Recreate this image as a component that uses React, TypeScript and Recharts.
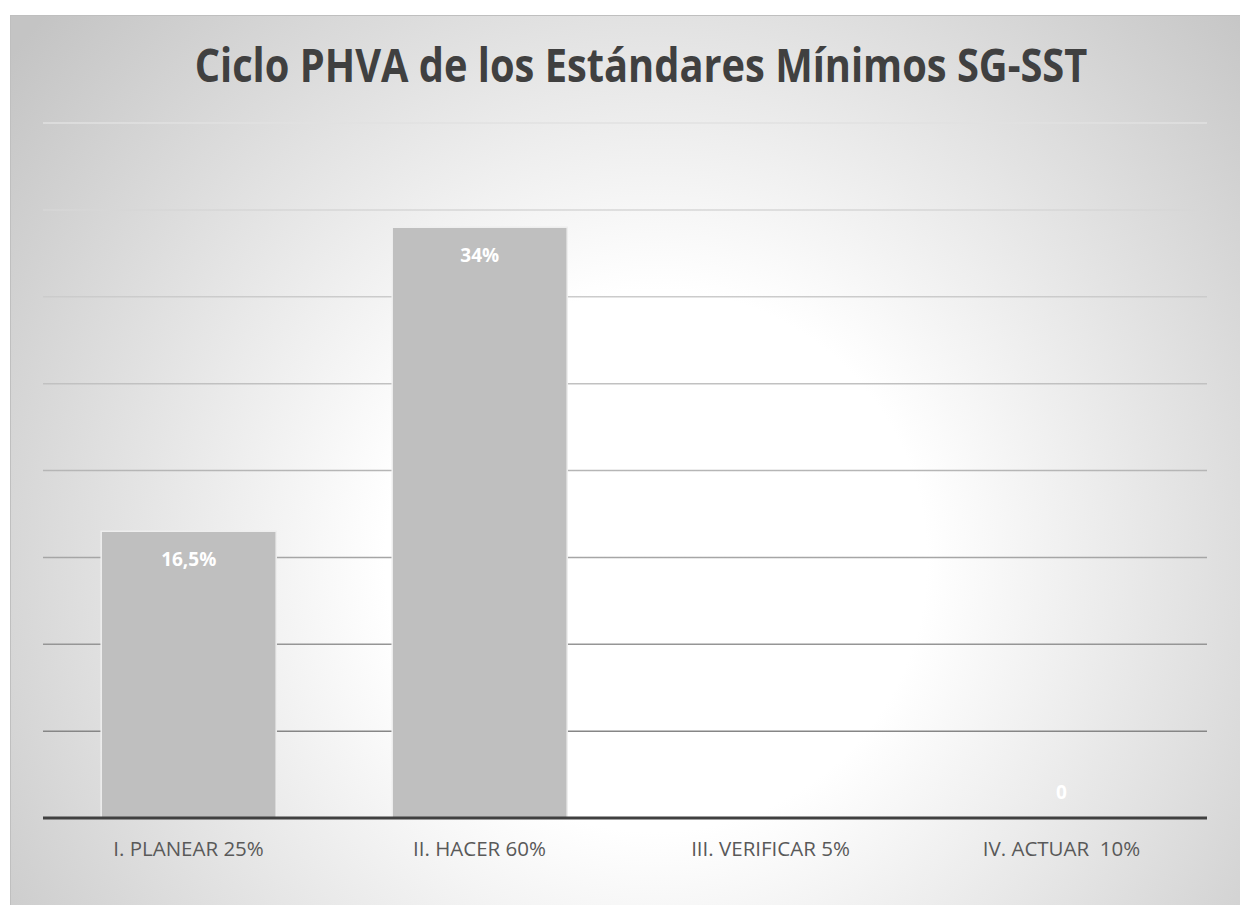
import { Bar, BarChart, CartesianGrid, LabelList, XAxis, YAxis } from "recharts";

const categories = [
  "I. PLANEAR 25%",
  "II. HACER 60%",
  "III. VERIFICAR 5%",
  "IV. ACTUAR  10%"
];
const values = [16.5, 34, 0, 0];
const valueLabels = ["16,5%", "34%", "0", "0"];
const yTicks = [0, 5, 10, 15, 20, 25, 30, 35, 40];

const data = categories.map((name, i) => ({
  name,
  value: values[i],
  label: valueLabels[i]
}));

const FONT = "'Open Sans', 'Liberation Sans', sans-serif";

function ValueLabel(props: any) {
  const { x, y, width, height, index } = props;
  if (!(height > 0)) return null;
  return (
    <text
      x={x + width / 2}
      y={y + 28}
      textAnchor="middle"
      dominantBaseline="central"
      fill="#ffffff"
      fontFamily={FONT}
      fontWeight={700}
      fontSize={19}
    >
      {valueLabels[index]}
    </text>
  );
}

// category tick; zero-height bars get their value label just above the axis
function CategoryTick(props: any) {
  const { x, y, payload, index } = props;
  const i = payload?.index ?? index;
  return (
    <g>
      <text
        x={x}
        y={y + 24}
        textAnchor="middle"
        dominantBaseline="central"
        fill="#595959"
        fontFamily={FONT}
        fontSize={20.5}
        style={{ whiteSpace: "pre" }}
      >
        {payload.value}
      </text>
      {values[i] === 0 && (
        <text
          x={x}
          y={y - 32}
          textAnchor="middle"
          dominantBaseline="central"
          fill="#ffffff"
          fontFamily={FONT}
          fontWeight={700}
          fontSize={19}
        >
          {valueLabels[i]}
        </text>
      )}
    </g>
  );
}

export default function App() {
  return (
    <div style={{ position: "relative", width: 1248, height: 913, margin: -8, overflow: "hidden", background: "#ffffff" }}>
      <div
        style={{
          position: "absolute",
          left: 10,
          top: 15,
          width: 1237,
          height: 897,
          borderTop: "1px solid #bfbfbf",
          borderLeft: "1px solid #bfbfbf"
        }}
      >
        <svg width={1237} height={897} style={{ position: "absolute", left: 0, top: 0 }}>
          <defs>
            <radialGradient id="bgGrad" gradientUnits="userSpaceOnUse" cx={645} cy={545} r={820}>
              <stop offset="0" stopColor="#ffffff" />
              <stop offset="0.33" stopColor="#ffffff" />
              <stop offset="1" stopColor="#c4c4c4" />
            </radialGradient>
          </defs>
          <rect x={0} y={0} width={1237} height={897} fill="url(#bgGrad)" />
        </svg>
        <div
          style={{
            position: "absolute",
            left: 0,
            top: 25,
            width: 1260,
            textAlign: "center",
            fontFamily: FONT,
            fontWeight: 700,
            fontSize: 46,
            lineHeight: 1,
            color: "#404040",
            whiteSpace: "nowrap",
            transform: "scaleX(0.865)",
            transformOrigin: "630px 0"
          }}
        >
          Ciclo PHVA de los Estándares Mínimos SG-SST
        </div>
        <div style={{ position: "absolute", left: 0, top: 0 }}>
          <BarChart
            width={1237}
            height={897}
            data={data}
            margin={{ top: 107, right: 41, bottom: 0, left: 32 }}
            barCategoryGap="20%"
          >
            <defs>
              <linearGradient id="gridGrad" gradientUnits="userSpaceOnUse" x1={0} y1={100} x2={0} y2={720}>
                <stop offset="0" stopColor="#e2e2e2" />
                <stop offset="0.55" stopColor="#b8b8b8" />
                <stop offset="1" stopColor="#858585" />
              </linearGradient>
            </defs>
            <CartesianGrid vertical={false} stroke="url(#gridGrad)" strokeWidth={1.5} />
            <YAxis hide domain={[0, 40]} ticks={yTicks} />
            <XAxis
              dataKey="name"
              height={95}
              axisLine={{ stroke: "#404040", strokeWidth: 3 }}
              tickLine={false}
              tickMargin={0}
              interval={0}
              tick={<CategoryTick />}
            />
            <Bar
              dataKey="value"
              fill="#bfbfbf"
              stroke="#eeeeee"
              strokeWidth={1.5}
              isAnimationActive={false}
            >
              <LabelList dataKey="label" content={<ValueLabel />} />
            </Bar>
          </BarChart>
        </div>
      </div>
    </div>
  );
}
